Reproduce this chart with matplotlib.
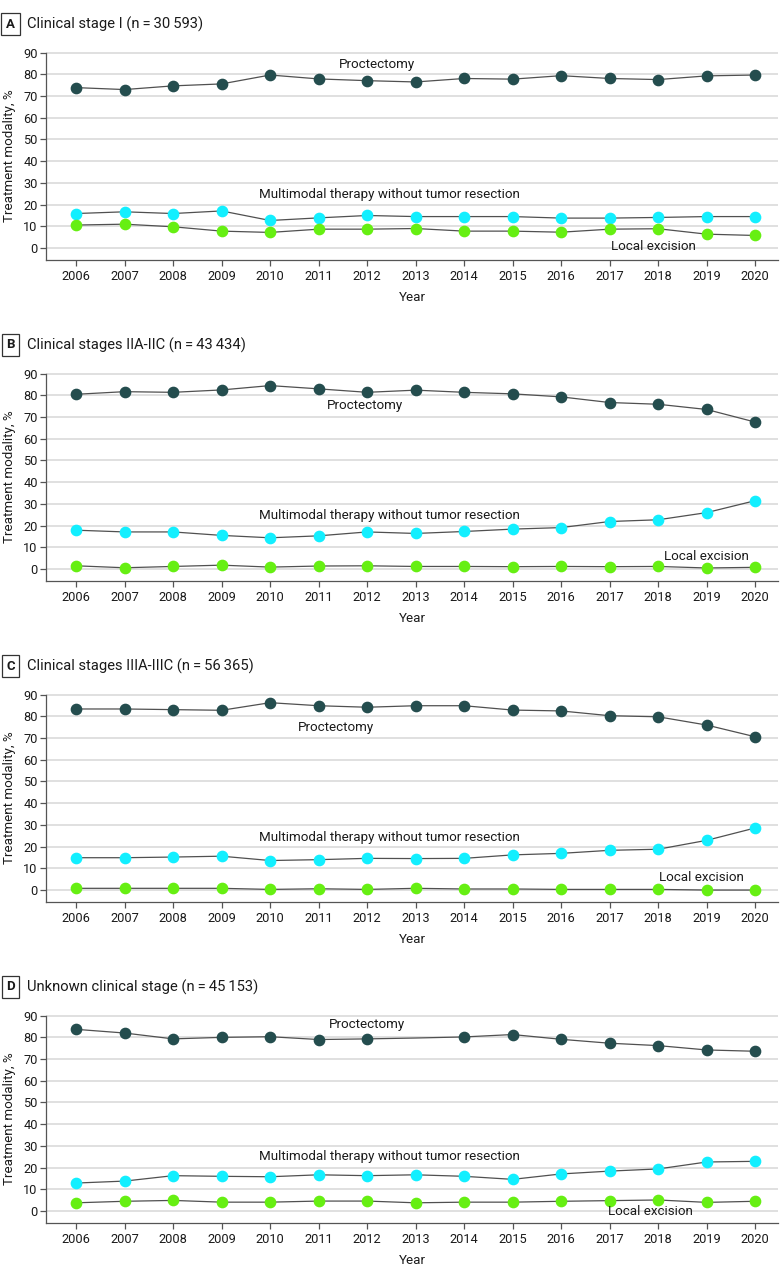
import matplotlib.pyplot as plt
from matplotlib import font_manager

# fonte parecida com a da figura original
installed = {f.name for f in font_manager.fontManager.ttflist}
FONT = "Roboto" if "Roboto" in installed else "DejaVu Sans"
plt.rcParams["font.family"] = [FONT, "DejaVu Sans"]

years = [2006, 2007, 2008, 2009, 2010, 2011, 2012, 2013, 2014, 2015, 2016, 2017, 2018, 2019, 2020]

TS = "\u2009"  # espaco fino
panel_letters = ["A", "B", "C", "D"]
panel_titles = [
    f"Clinical stage I (n{TS}={TS}30{TS}593)",
    f"Clinical stages IIA-IIC (n{TS}={TS}43{TS}434)",
    f"Clinical stages IIIA-IIIC (n{TS}={TS}56{TS}365)",
    f"Unknown clinical stage (n{TS}={TS}45{TS}153)",
]
series_names = ["Proctectomy", "Multimodal therapy without tumor resection", "Local excision"]

# Painel A - estadio I
a_proctectomy = [73.9, 73.0, 74.7, 75.6, 79.7, 77.9, 77.1, 76.5, 78.1, 77.8, 79.4, 78.1, 77.6, 79.3, 79.7]
a_multimodal = [15.9, 16.7, 15.9, 17.1, 12.7, 13.9, 15.0, 14.5, 14.5, 14.5, 13.8, 13.8, 14.1, 14.5, 14.5]
a_local = [10.6, 11.0, 9.8, 7.8, 7.2, 8.7, 8.7, 9.0, 7.8, 7.8, 7.3, 8.7, 8.9, 6.4, 5.8]

# Painel B - estadios IIA-IIC
b_proctectomy = [80.5, 81.7, 81.4, 82.5, 84.5, 83.0, 81.4, 82.4, 81.4, 80.7, 79.3, 76.7, 75.9, 73.5, 67.7]
b_multimodal = [17.9, 17.1, 17.1, 15.5, 14.4, 15.3, 17.1, 16.4, 17.3, 18.4, 19.1, 21.9, 22.7, 26.0, 31.5]
b_local = [1.5, 0.6, 1.2, 1.8, 0.9, 1.4, 1.5, 1.2, 1.2, 1.1, 1.2, 1.1, 1.2, 0.5, 0.8]

# Painel C - estadios IIIA-IIIC
c_proctectomy = [83.4, 83.4, 83.1, 82.8, 86.3, 84.9, 84.2, 84.9, 84.9, 82.9, 82.5, 80.3, 79.8, 76.0, 70.6]
c_multimodal = [14.9, 14.9, 15.2, 15.6, 13.6, 14.0, 14.6, 14.5, 14.6, 16.2, 16.9, 18.3, 18.8, 22.9, 28.6]
c_local = [0.8, 0.8, 0.8, 0.8, 0.3, 0.6, 0.3, 0.8, 0.5, 0.5, 0.3, 0.3, 0.3, 0.0, 0.0]

# Painel D - estadio desconhecido
d_proctectomy = [83.7, 82.0, 79.3, 80.0, 80.3, 79.0, 79.3, 79.7, 80.2, 81.3, 79.1, 77.3, 76.2, 74.2, 73.6]
d_multimodal = [12.9, 13.8, 16.3, 16.0, 15.8, 16.7, 16.3, 16.7, 16.0, 14.6, 17.1, 18.4, 19.4, 22.6, 22.9]
d_local = [3.8, 4.5, 4.9, 4.1, 4.1, 4.6, 4.6, 3.8, 4.1, 4.1, 4.5, 4.8, 5.1, 4.0, 4.5]
d_proctectomy_no_marker = [2013]  # ponto sem marcador na figura original

panels = [
    [a_proctectomy, a_multimodal, a_local],
    [b_proctectomy, b_multimodal, b_local],
    [c_proctectomy, c_multimodal, c_local],
    [d_proctectomy, d_multimodal, d_local],
]
# anos sem marcador, por painel e por serie
hidden_markers = [
    [[], [], []],
    [[], [], []],
    [[], [], []],
    [d_proctectomy_no_marker, [], []],
]

colors = ["#244d4e", "#12efff", "#66ef12"]
line_color = "#505050"

# posicao dos rotulos das series (x em anos, y em %)
label_pos = [
    [(2012.2, 84.5), (2012.47, 24.6), (2017.9, 0.9)],
    [(2011.95, 75.2), (2012.47, 24.6), (2019.0, 6.0)],
    [(2011.35, 74.8), (2012.47, 24.4), (2018.9, 6.0)],
    [(2012.0, 85.8), (2012.47, 25.3), (2017.85, -0.4)],
]

W, H = 783, 1279
fig = plt.figure(figsize=(W / 100, H / 100), dpi=100)

axes_bottom_px = [260, 581, 902, 1223]
axes_height_px = 208

for i in range(4):
    bottom = axes_bottom_px[i]
    ax = fig.add_axes([46 / W, 1 - bottom / H, 732 / W, axes_height_px / H])

    for values, color, pos, name, hidden in zip(panels[i], colors, label_pos[i],
                                                series_names, hidden_markers[i]):
        keep = [k for k, yr in enumerate(years) if yr not in hidden]
        ax.plot(years, values, color=line_color, lw=0.9, marker="o", ms=7.4,
                mfc=color, mec=color, markevery=keep, zorder=3)
        ax.text(pos[0], pos[1], name, ha="center", va="center", fontsize=9.6,
                color="#1a1a1a", zorder=4)

    ax.set_xlim(2005.38, 2020.47)
    ax.set_ylim(-5.5, 90.3)
    ax.set_yticks(range(0, 91, 10))
    ax.set_xticks(years)
    ax.yaxis.grid(True, color="#dadada", lw=1.2)
    ax.set_axisbelow(True)
    for side in ["top", "right"]:
        ax.spines[side].set_visible(False)
    for side in ["left", "bottom"]:
        ax.spines[side].set_color("#555555")
        ax.spines[side].set_linewidth(0.9)
    ax.spines["left"].set_bounds(-5.5, 90)
    ax.tick_params(axis="both", colors="#555555", length=4.5, width=0.9,
                   labelsize=9.2, labelcolor="#1a1a1a")
    ax.tick_params(axis="y", pad=1.5)
    ax.tick_params(axis="x", pad=2.5)
    ax.set_ylabel("Treatment modality, %", fontsize=9.6, color="#1a1a1a", labelpad=5)
    ax.set_xlabel("Year", fontsize=9.6, color="#1a1a1a", labelpad=6)

    # titulo do painel com letra em caixa
    top = bottom - axes_height_px
    ty = 1 - (top - 28) / H
    fig.text(10.5 / W, ty, panel_letters[i], ha="center", va="center", fontsize=9.5,
             weight="bold", color="#1a1a1a",
             bbox=dict(boxstyle="square,pad=0.35", fc="white", ec="#333333", lw=0.9))
    fig.text(27 / W, ty, panel_titles[i], ha="left", va="center", fontsize=10.6,
             color="#1a1a1a")

fig.savefig("out.png", dpi=100)
